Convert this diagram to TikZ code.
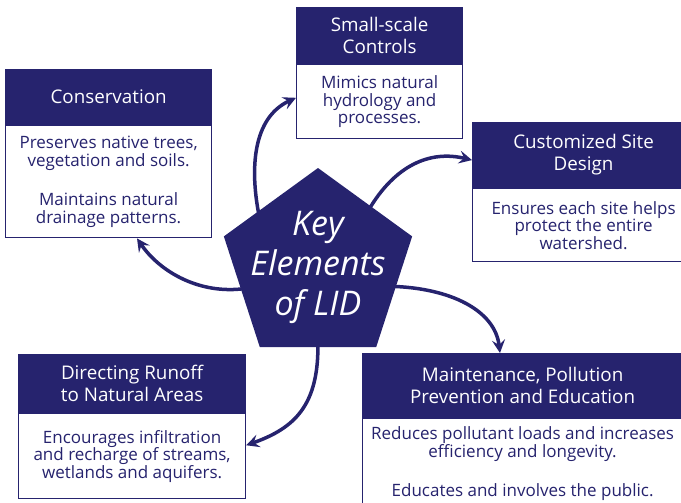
\documentclass[tikz,border=0pt]{standalone}
\usepackage{fontspec}
\setmainfont{Open Sans}
\usetikzlibrary{shapes.geometric, arrows.meta, positioning, backgrounds}
\definecolor{navy}{RGB}{38,35,110}
\tikzstyle{head}=[fill=navy, draw=navy, line width=1.2pt, text=white, align=center, font=\fontsize{18.8}{22}\selectfont, inner sep=0pt, anchor=north west]
\tikzstyle{body}=[draw=navy, line width=1.2pt, fill=white, text=navy, align=center, font=\fontsize{17}{17.5}\selectfont, inner sep=0pt]
\tikzstyle{flecha}=[draw=navy, line width=3.5pt, shorten <=-5pt, -{Stealth[length=13pt, width=13pt, inset=5pt]}]

\begin{document}
\begin{tikzpicture}[x=1pt, y=-1pt]
        \useasboundingbox (0,0) rectangle (681,503);

        % cajas
        \node[head, minimum width=206pt, minimum height=55pt] (conshead) at (5,69) {Conservation};
        \node[body, minimum width=206pt, minimum height=112pt, below=0pt of conshead] (consbody) {Preserves native trees,\\ vegetation and soils.\\[22pt] Maintains natural\\ drainage patterns.};

        \node[head, minimum width=166pt, minimum height=56pt] (smallhead) at (296,7) {Small-scale\\ Controls};
        \node[body, minimum width=166pt, minimum height=74pt, below=0pt of smallhead] (smallbody) {Mimics natural\\ hydrology and\\ processes.};

        \node[head, minimum width=222pt, minimum height=65pt] (sitehead) at (472,122) {Customized Site\\ Design};
        \node[body, minimum width=222pt, minimum height=73pt, below=0pt of sitehead] (sitebody) {Ensures each site helps\\ protect the entire\\ watershed.};

        \node[head, minimum width=227pt, minimum height=58pt] (dirhead) at (18,354) {Directing Runoff\\ to Natural Areas};
        \node[body, minimum width=227pt, minimum height=85pt, below=0pt of dirhead] (dirbody) {Encourages infiltration\\ and recharge of streams,\\ wetlands and aquifers.};

        \node[head, minimum width=320pt, minimum height=64pt] (mainthead) at (362,353) {Maintenance, Pollution\\ Prevention and Education};
        \node[body, minimum width=320pt, minimum height=90pt, below=0pt of mainthead] (maintbody) {Reduces pollutant loads and increases\\ efficiency and longevity.\\[22pt] Educates and involves the public.};

        % pentagono
        \node[regular polygon, regular polygon sides=5, fill=navy, minimum size=198pt, inner sep=0pt] (key) at (318,267) {};
        \node[text=white, align=center, font=\fontsize{34}{40}\selectfont\itshape] (keytext) at (key.center) {Key\\ Elements\\ of LID};

        % flechas
        \begin{scope}[on background layer]
        \draw[flecha] (key.137) .. controls (250,170) and (252,118) .. ([yshift=4pt]smallbody.west);
        \draw[flecha] (key.49) .. controls (395,165) and (430,150) .. ([yshift=-5pt]sitehead.west);
        \draw[flecha] (key.-14) .. controls (450,288) and (495,310) .. ([xshift=138pt]mainthead.north west);
        \draw[flecha] (key.south) .. controls (319,405) and (295,428) .. ([yshift=11pt]dirbody.east);
        \draw[flecha] (key.-164) .. controls (200,295) and (160,272) .. ([xshift=132pt]consbody.south west);
        \end{scope}
    \end{tikzpicture}
\end{document}
